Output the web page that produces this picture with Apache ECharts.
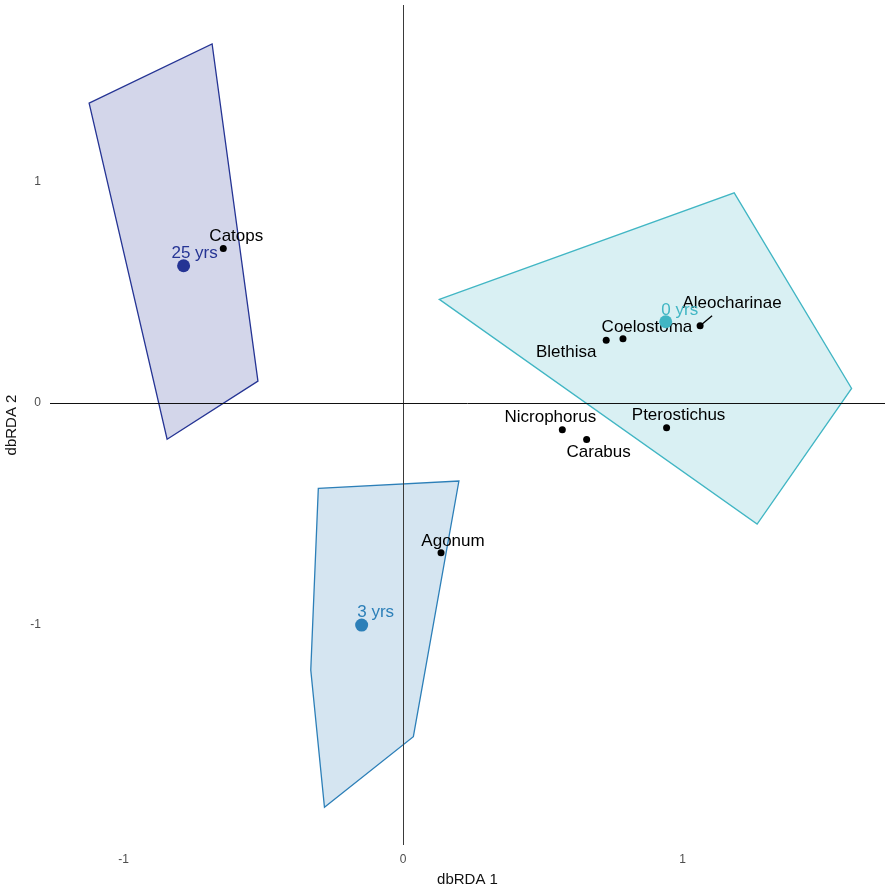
<!DOCTYPE html>
<html>
<head>
<meta charset="utf-8">
<script src="https://cdn.jsdelivr.net/npm/echarts@6/dist/echarts.min.js"></script>
<style>
  html, body { margin: 0; padding: 0; background: #ffffff; }
  #chart { width: 885px; height: 890px; }
</style>
</head>
<body>
<div id="chart"></div>
<script>
// dbRDA ordination: convex hulls per age group, group centroids and species scores
const groups = ['0 yrs', '3 yrs', '25 yrs'];
const groupColors = ['#41b6c4', '#2c7fb8', '#253494'];

// hull vertices [dbRDA1, dbRDA2]
const hull0 = [[0.130, 0.468], [1.185, 0.949], [1.605, 0.066], [1.267, -0.546]];
const hull3 = [[-0.303, -0.385], [0.200, -0.352], [0.037, -1.506], [-0.281, -1.825], [-0.330, -1.205]];
const hull25 = [[-1.123, 1.354], [-0.683, 1.621], [-0.519, 0.099], [-0.844, -0.163]];

// group centroids
const centroidX = [0.940, -0.148, -0.785];
const centroidY = [0.367, -1.002, 0.620];

// species scores
const species = ['Catops', 'Aleocharinae', 'Coelostoma', 'Blethisa', 'Nicrophorus', 'Carabus', 'Pterostichus', 'Agonum'];
const speciesX = [-0.643, 1.063, 0.787, 0.727, 0.570, 0.657, 0.943, 0.136];
const speciesY = [0.698, 0.349, 0.290, 0.284, -0.120, -0.164, -0.111, -0.676];

const xTicks = [-1, 0, 1];
const yTicks = [-1, 0, 1];

// label placement (pixel offsets of the label centre from its point)
const centroidLabelOffsets = [[14, -11], [14, -13], [11, -12]];
const speciesLabelOffsets = [[13, -12], [32, -22], [24, -12], [-40, 12], [-12, -12], [12, 13], [12, -12], [12, -12]];
// repel segments drawn from a point towards its displaced label
const leaderSpecies = ['Aleocharinae'];
const leaderOffsets = [[12, -10]];

const FONT = '"Liberation Sans", Arial, sans-serif';

function withAlpha(hex, a) {
  const n = parseInt(hex.slice(1), 16);
  return 'rgba(' + ((n >> 16) & 255) + ',' + ((n >> 8) & 255) + ',' + (n & 255) + ',' + a + ')';
}

function hullSeries(pts, color) {
  return {
    type: 'custom',
    coordinateSystem: 'cartesian2d',
    silent: true,
    z: 1,
    data: pts,
    renderItem: function (params, api) {
      if (params.dataIndex !== 0) return null;
      const points = pts.map(function (v) { return api.coord(v); });
      return {
        type: 'polygon',
        shape: { points: points },
        style: { fill: withAlpha(color, 0.2), stroke: color, lineWidth: 1.3 }
      };
    }
  };
}

const hullList = [hull0, hull3, hull25];

const series = hullList.map(function (h, i) { return hullSeries(h, groupColors[i]); });

// zero reference lines
series.push({
  type: 'line',
  data: [],
  silent: true,
  z: 2,
  markLine: {
    silent: true,
    symbol: 'none',
    animation: false,
    label: { show: false },
    data: [
      { xAxis: 0, lineStyle: { color: '#3a3a3a', width: 1, type: 'solid' } },
      { yAxis: 0, lineStyle: { color: '#111111', width: 1, type: 'solid' } }
    ]
  }
});

// leader segments
series.push({
  type: 'custom',
  coordinateSystem: 'cartesian2d',
  silent: true,
  z: 3,
  data: leaderSpecies.map(function (name) {
    const k = species.indexOf(name);
    return [speciesX[k], speciesY[k]];
  }),
  renderItem: function (params, api) {
    const p = api.coord([api.value(0), api.value(1)]);
    const o = leaderOffsets[params.dataIndex];
    return {
      type: 'line',
      shape: { x1: p[0], y1: p[1], x2: p[0] + o[0], y2: p[1] + o[1] },
      style: { stroke: '#000', lineWidth: 1.3 }
    };
  }
});

// species points
series.push({
  type: 'scatter',
  z: 4,
  symbol: 'circle',
  symbolSize: 7,
  itemStyle: { color: '#000000', opacity: 1 },
  data: species.map(function (name, i) {
    return {
      name: name,
      value: [speciesX[i], speciesY[i]],
      label: { offset: speciesLabelOffsets[i] }
    };
  }),
  label: {
    show: true,
    position: 'inside',
    formatter: '{b}',
    color: '#000000',
    fontSize: 17,
    fontFamily: FONT
  }
});

// group centroids
series.push({
  type: 'scatter',
  z: 5,
  symbol: 'circle',
  symbolSize: 13,
  data: groups.map(function (g, i) {
    return {
      name: g,
      value: [centroidX[i], centroidY[i]],
      itemStyle: { color: groupColors[i], opacity: 1 },
      label: { offset: centroidLabelOffsets[i], color: groupColors[i] }
    };
  }),
  label: {
    show: true,
    position: 'inside',
    formatter: '{b}',
    fontSize: 17,
    fontFamily: FONT
  }
});

const chart = echarts.init(document.getElementById('chart'), null, { renderer: 'canvas' });
chart.setOption({
  animation: false,
  backgroundColor: '#ffffff',
  grid: { left: 50, right: 0, top: 5, bottom: 45, containLabel: false, outerBoundsMode: 'none' },
  xAxis: {
    type: 'value',
    min: -1.263,
    max: 1.7245,
    name: 'dbRDA 1',
    nameLocation: 'middle',
    nameGap: 27,
    nameTextStyle: { color: '#111111', fontSize: 15, fontFamily: FONT },
    axisLine: { show: false },
    axisTick: { show: false },
    splitLine: { show: false },
    axisLabel: { customValues: xTicks, color: '#4d4d4d', fontSize: 12, fontFamily: FONT, margin: 9 }
  },
  yAxis: {
    type: 'value',
    min: -1.995,
    max: 1.797,
    name: 'dbRDA 2',
    nameLocation: 'middle',
    nameGap: 31,
    nameRotate: 90,
    nameTextStyle: { color: '#111111', fontSize: 15, fontFamily: FONT },
    axisLine: { show: false },
    axisTick: { show: false },
    splitLine: { show: false },
    axisLabel: { customValues: yTicks, color: '#4d4d4d', fontSize: 12, fontFamily: FONT, margin: 9 }
  },
  series: series
});
</script>
</body>
</html>
